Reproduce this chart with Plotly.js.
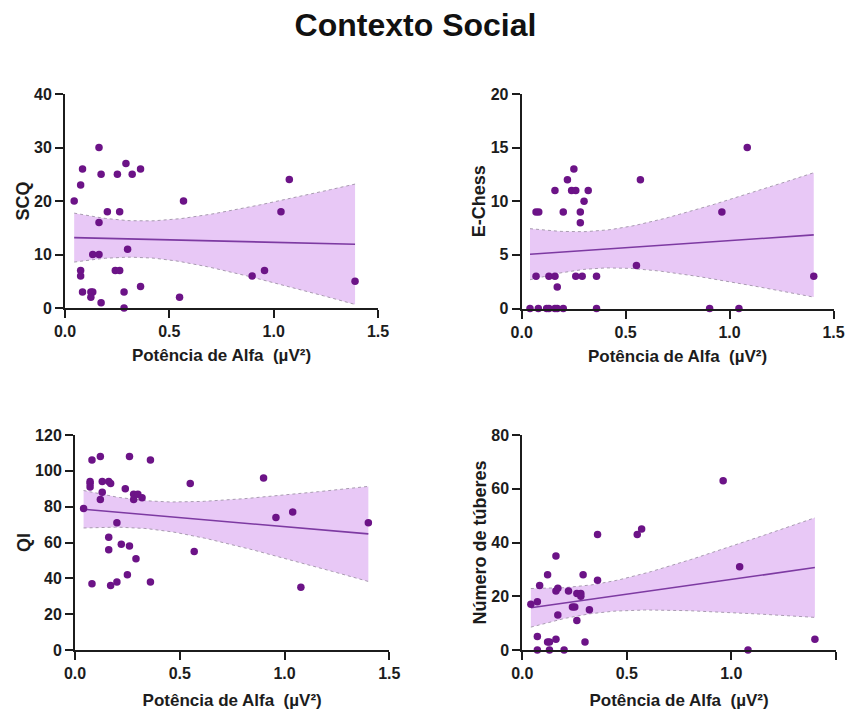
<!DOCTYPE html>
<html>
<head>
<meta charset="utf-8">
<script src="https://cdn.plot.ly/plotly-3.0.1.min.js"></script>
<style>
  html, body { margin: 0; padding: 0; background: #ffffff; }
  #chart { width: 847px; height: 710px; }
</style>
</head>
<body>
<div id="chart"></div>
<script>
// Alpha power (µV²) against four social-context measures
const chartTitle = 'Contexto Social';
const xTitle = 'Potência de Alfa\u00a0\u00a0(µV²)';
const yTitles = ['SCQ', 'E-Chess', 'QI', 'Número de túberes'];

const alfaSCQ = [0.044,0.075,0.084,0.163,0.173,0.203,0.163,0.251,0.262,0.292,0.322,0.362,0.568,1.075,1.035,0.300,0.133,0.163,0.075,0.075,0.084,0.124,0.133,0.124,0.173,0.241,0.262,0.283,0.283,0.362,0.549,0.897,0.956,1.390];
const scq     = [20,23,26,30,25,18,16,25,18,27,25,26,20,24,18,11,10,10,7,6,3,3,3,2,1,7,7,3,0,4,2,6,7,5];

const alfaEChess = [0.040,0.069,0.069,0.082,0.080,0.120,0.131,0.131,0.160,0.160,0.160,0.171,0.171,0.200,0.200,0.220,0.251,0.240,0.260,0.260,0.282,0.282,0.291,0.300,0.320,0.360,0.360,0.552,0.571,0.904,0.963,1.045,1.085,1.405];
const eChess     = [0,3,9,9,0,0,0,3,11,3,0,2,0,9,0,12,13,11,11,3,9,8,3,10,11,3,0,4,12,0,9,0,15,3];

const alfaQI = [0.041,0.072,0.072,0.072,0.081,0.081,0.121,0.121,0.130,0.130,0.161,0.170,0.161,0.161,0.170,0.200,0.200,0.221,0.240,0.250,0.260,0.260,0.280,0.280,0.291,0.300,0.320,0.360,0.360,0.550,0.569,0.900,0.959,1.039,1.078,1.400];
const qi     = [79,94,93,91,106,37,108,84,94,88,94,93,63,56,36,71,38,59,90,42,108,58,87,84,51,87,85,106,38,93,55,96,74,77,35,71];

const alfaTuberes = [0.041,0.072,0.072,0.072,0.083,0.121,0.121,0.130,0.130,0.161,0.161,0.170,0.170,0.161,0.200,0.221,0.240,0.251,0.261,0.261,0.280,0.280,0.291,0.300,0.321,0.360,0.360,0.550,0.571,0.961,1.040,1.080,1.400];
const tuberes     = [17,18,5,0,24,28,3,3,0,35,22,23,13,4,0,22,16,16,21,11,21,20,28,3,15,43,26,43,45,63,31,0,4];

const xTicks = [0, 0.5, 1.0, 1.5];
const yTicks = [
  [0, 10, 20, 30, 40],
  [0, 5, 10, 15, 20],
  [0, 20, 40, 60, 80, 100, 120],
  [0, 20, 40, 60, 80]
];

const panelsData = [
  { x: alfaSCQ, y: scq },
  { x: alfaEChess, y: eChess },
  { x: alfaQI, y: qi },
  { x: alfaTuberes, y: tuberes }
];

// pixel boxes of each plotting area: [left, right, top, bottom]
const W = 847, H = 710;
const boxes = [
  [65, 378, 94, 308],
  [521.7, 833.5, 94, 308.5],
  [75, 389.3, 435, 650],
  [522.3, 835.8, 435, 650]
];
const xTitleGap = [10, 10, 13, 13];

const FONT = 'Liberation Sans, Arial, Helvetica, sans-serif';
const INK = '#1c1c1c';
const DOT = '#6c1387';
const FIT = '#7d3aa2';
const BAND = 'rgba(226,184,244,0.78)';
const BAND_EDGE = '#a89bb0';

// two-sided 95% Student t quantile (Cornish-Fisher expansion)
function t975(df) {
  const z = 1.959964;
  const z3 = z * z * z, z5 = z3 * z * z, z7 = z5 * z * z;
  return z + (z3 + z) / (4 * df) + (5 * z5 + 16 * z3 + 3 * z) / (96 * df * df)
           + (3 * z7 + 19 * z5 + 17 * z3 - 15 * z) / (384 * df * df * df);
}

// least-squares line with 95% confidence band of the mean
function fitLine(xs, ys) {
  const n = xs.length;
  const mx = xs.reduce((a, b) => a + b, 0) / n;
  const my = ys.reduce((a, b) => a + b, 0) / n;
  let sxx = 0, sxy = 0;
  for (let i = 0; i < n; i++) { sxx += (xs[i] - mx) ** 2; sxy += (xs[i] - mx) * (ys[i] - my); }
  const b = sxy / sxx, a = my - b * mx;
  let sse = 0;
  for (let i = 0; i < n; i++) sse += (ys[i] - a - b * xs[i]) ** 2;
  const s = Math.sqrt(sse / (n - 2));
  const t = t975(n - 2);
  const lo = Math.min(...xs), hi = Math.max(...xs);
  const gx = [], gy = [], up = [], dn = [];
  const steps = 80;
  for (let k = 0; k <= steps; k++) {
    const x = lo + (hi - lo) * k / steps;
    const yh = a + b * x;
    const h = t * s * Math.sqrt(1 / n + (x - mx) ** 2 / sxx);
    gx.push(x); gy.push(yh); up.push(yh + h); dn.push(yh - h);
  }
  return { gx, gy, up, dn };
}

const traces = [];
const layout = {
  width: W, height: H,
  margin: { l: 0, r: 0, t: 0, b: 0 },
  paper_bgcolor: '#ffffff',
  plot_bgcolor: '#ffffff',
  showlegend: false,
  font: { family: FONT, color: INK },
  title: {
    text: chartTitle,
    font: { family: FONT, size: 32, weight: 'bold', color: '#111111' },
    x: 415.5 / W, xanchor: 'center', xref: 'paper',
    y: 1 - 25 / H, yanchor: 'middle', yref: 'container'
  }
};

panelsData.forEach((p, i) => {
  const n = i + 1;
  const xa = 'x' + (n === 1 ? '' : n);
  const ya = 'y' + (n === 1 ? '' : n);
  const f = fitLine(p.x, p.y);

  traces.push({
    x: f.gx, y: f.dn, xaxis: xa, yaxis: ya, type: 'scatter', mode: 'lines',
    line: { color: BAND_EDGE, width: 1, dash: 'dot' }, hoverinfo: 'skip'
  });
  traces.push({
    x: f.gx, y: f.up, xaxis: xa, yaxis: ya, type: 'scatter', mode: 'lines',
    fill: 'tonexty', fillcolor: BAND,
    line: { color: BAND_EDGE, width: 1, dash: 'dot' }, hoverinfo: 'skip'
  });
  traces.push({
    x: f.gx, y: f.gy, xaxis: xa, yaxis: ya, type: 'scatter', mode: 'lines',
    line: { color: FIT, width: 1.6 }, hoverinfo: 'skip'
  });
  traces.push({
    x: p.x, y: p.y, xaxis: xa, yaxis: ya, type: 'scatter', mode: 'markers',
    cliponaxis: false,
    marker: { color: DOT, size: 7.5, line: { width: 0 } }
  });

  const [l, r, t, b] = boxes[i];
  const yMax = yTicks[i][yTicks[i].length - 1];
  const axCommon = {
    showgrid: false, zeroline: false,
    showline: true, linecolor: INK, linewidth: 2,
    ticks: 'outside', ticklen: 8, tickwidth: 2, tickcolor: INK,
    tickfont: { family: FONT, size: 16, weight: 'bold', color: INK },
    fixedrange: true
  };
  layout['xaxis' + (n === 1 ? '' : n)] = Object.assign({}, axCommon, {
    domain: [l / W, r / W], anchor: ya,
    range: [0, 1.5], tickvals: xTicks, tickformat: '.1f',
    title: {
      text: xTitle, standoff: xTitleGap[i],
      font: { family: FONT, size: 17, weight: 'bold', color: INK }
    }
  });
  layout['yaxis' + (n === 1 ? '' : n)] = Object.assign({}, axCommon, {
    domain: [1 - b / H, 1 - t / H], anchor: xa,
    range: [0, yMax], tickvals: yTicks[i],
    title: {
      text: yTitles[i], standoff: 0,
      font: { family: FONT, size: 18, weight: 'bold', color: INK }
    }
  });
});

Plotly.newPlot('chart', traces, layout, { displayModeBar: false, staticPlot: true });
</script>
</body>
</html>
